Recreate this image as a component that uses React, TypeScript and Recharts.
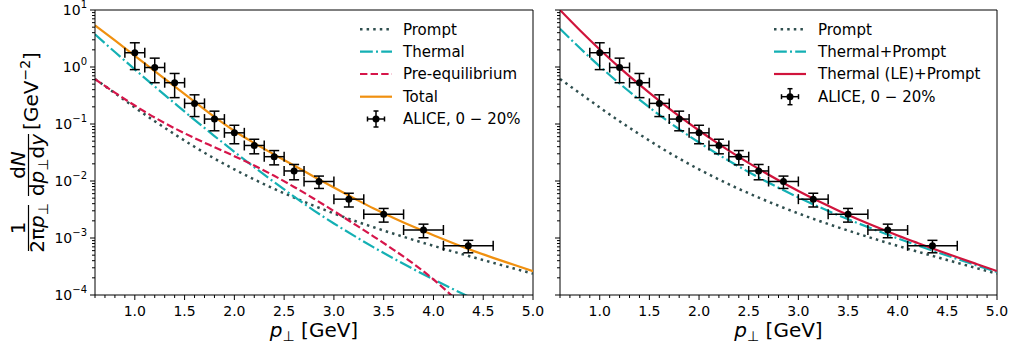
import { ComposedChart, Line, Scatter, ErrorBar, XAxis, YAxis, ReferenceLine } from "recharts";

const FONT = "'DejaVu Sans', sans-serif";

// shared pT grid for the model curves
const PT = [0.6, 0.8, 1.0, 1.2, 1.4, 1.6, 1.8, 2.0, 2.2, 2.4, 2.6, 2.8, 3.0, 3.2, 3.4, 3.6, 3.8, 4.0, 4.2, 4.4, 4.6, 4.8, 5.0];

const prompt = [0.617, 0.347, 0.195, 0.112, 0.0661, 0.0398, 0.0248, 0.016, 0.01064, 0.00728, 0.00512, 0.00368, 0.0027, 0.00202, 0.00154, 0.00119, 0.000925, 0.000728, 0.000577, 0.000459, 0.000367, 0.000294, 0.000237];
const thermal = [3.74, 1.83, 0.908, 0.455, 0.231, 0.118, 0.0615, 0.0325, 0.01746, 0.00955, 0.00532, 0.00303, 0.0018, 0.0011, 0.000684, 0.000437, 0.000284, 0.0001875, 0.000126, 0.0000857, null, null, null];
const preEq = [0.61, 0.355, 0.211, 0.13, 0.0841, 0.0566, 0.0392, 0.0273, 0.01866, 0.01233, 0.00787, 0.00489, 0.00297, 0.00178, 0.00106, 0.000621, 0.000353, 0.0001875, 0.0000918, null, null, null, null];
const total = [5.4, 2.92, 1.57, 0.85, 0.455, 0.246, 0.133, 0.0755, 0.0462, 0.0292, 0.0187, 0.0119, 0.0077, 0.005, 0.00328, 0.00225, 0.00157, 0.00112, 0.00081, 0.000595, 0.000448, 0.000342, 0.000262];
const thermalPrompt = [4.7, 2.15, 1.028, 0.513, 0.267, 0.144, 0.0809, 0.0474, 0.0287, 0.01795, 0.01153, 0.00762, 0.00515, 0.00356, 0.00252, 0.00182, 0.00133, 0.000986, 0.00074, 0.000561, 0.000428, 0.000328, 0.000254];
const thermalLEPrompt = [10, 4.41, 2.03, 0.977, 0.49, 0.255, 0.1374, 0.0769, 0.0445, 0.02655, 0.0163, 0.01028, 0.00667, 0.00445, 0.00305, 0.00214, 0.00153, 0.00111, 0.00082, 0.000611, 0.000459, 0.000347, 0.000263];

// ALICE 0-20% data
const alicePt = [1.0, 1.2, 1.4, 1.6, 1.8, 2.0, 2.2, 2.4, 2.6, 2.85, 3.15, 3.5, 3.9, 4.35];
const aliceY = [1.78, 0.98, 0.53, 0.23, 0.122, 0.07, 0.042, 0.0267, 0.015, 0.0098, 0.0048, 0.0026, 0.00138, 0.00073];
const aliceErrY = [0.88, 0.45, 0.24, 0.095, 0.046, 0.025, 0.012, 0.0075, 0.0045, 0.0024, 0.0013, 0.0007, 0.00037, 0.00018];
const aliceErrX = [0.1, 0.1, 0.1, 0.1, 0.1, 0.1, 0.1, 0.1, 0.1, 0.15, 0.15, 0.2, 0.2, 0.25];

const X_TICKS = [0.6, 0.7, 0.8, 0.9, 1.0, 1.1, 1.2, 1.3, 1.4, 1.5, 1.6, 1.7, 1.8, 1.9, 2.0, 2.1, 2.2, 2.3, 2.4, 2.5, 2.6, 2.7, 2.8, 2.9, 3.0, 3.1, 3.2, 3.3, 3.4, 3.5, 3.6, 3.7, 3.8, 3.9, 4.0, 4.1, 4.2, 4.3, 4.4, 4.5, 4.6, 4.7, 4.8, 4.9, 5.0];
const DECADES = [1e-4, 1e-3, 1e-2, 1e-1, 1];
const Y_TICKS = [...DECADES.flatMap((d) => [1, 2, 3, 4, 5, 6, 7, 8, 9].map((m) => m * d)), 10];

const rows = (vals: (number | null)[]) => PT.map((x, i) => ({ x, y: vals[i] }));
const aliceRows = alicePt.map((x, i) => ({ x, y: aliceY[i], ey: aliceErrY[i], ex: aliceErrX[i] }));

const C_PROMPT = "#2f4f4f";
const C_THERMAL = "#14b0b4";
const C_PRE = "#d6154a";
const C_TOTAL = "#f0900f";
const C_LE = "#d0143c";

const DOT = "2.5 4.1";
const DASHDOT = "12.8 3.2 2 3.2";
const DASH = "7.4 3.2";

type Curve = { name: string; vals: (number | null)[]; color: string; dash?: string; width: number };

const leftCurves: Curve[] = [
  { name: "Prompt", vals: prompt, color: C_PROMPT, dash: DOT, width: 2.5 },
  { name: "Thermal", vals: thermal, color: C_THERMAL, dash: DASHDOT, width: 2.2 },
  { name: "Pre-equilibrium", vals: preEq, color: C_PRE, dash: DASH, width: 2.2 },
  { name: "Total", vals: total, color: C_TOTAL, width: 2.2 },
];
const rightCurves: Curve[] = [
  { name: "Prompt", vals: prompt, color: C_PROMPT, dash: DOT, width: 2.5 },
  { name: "Thermal+Prompt", vals: thermalPrompt, color: C_THERMAL, dash: DASHDOT, width: 2.2 },
  { name: "Thermal (LE)+Prompt", vals: thermalLEPrompt, color: C_LE, width: 2.2 },
];

function XTick(props: any) {
  const { x, y, payload } = props;
  const v = payload.value;
  const major = Math.abs(v * 2 - Math.round(v * 2)) < 1e-6;
  return (
    <g>
      <line x1={x} x2={x} y1={y} y2={y + (major ? 5 : 3)} stroke="#000" strokeWidth={1} />
      {major && (
        <text x={x} y={y + 21} textAnchor="middle" fontSize={14} fill="#000">
          {v.toFixed(1)}
        </text>
      )}
    </g>
  );
}

function YTick(props: any) {
  const { x, y, payload, showLabel } = props;
  const lg = Math.log10(payload.value);
  const exp = Math.round(lg);
  const major = Math.abs(lg - exp) < 1e-6;
  return (
    <g>
      <line x1={x} x2={x - (major ? 5 : 3)} y1={y} y2={y} stroke="#000" strokeWidth={1} />
      {major && showLabel && (
        <text x={x - 8} y={y} dy="0.35em" textAnchor="end" fontSize={14} fill="#000">
          10
          <tspan fontSize={10} dy={-7}>{exp < 0 ? `\u2212${-exp}` : `${exp}`}</tspan>
        </text>
      )}
    </g>
  );
}

function Panel({ left, width, yWidth, marginRight, showLabels, curves }: { left: number; width: number; yWidth: number; marginRight: number; showLabels: boolean; curves: Curve[] }) {
  return (
    <div style={{ position: "absolute", left, top: 0 }}>
      <ComposedChart width={width} height={352} margin={{ top: 10, right: marginRight, bottom: 0, left: 0 }}>
        <XAxis
          dataKey="x"
          type="number"
          domain={[0.6, 5]}
          allowDataOverflow
          ticks={X_TICKS}
          interval={0}
          tickSize={0}
          tickMargin={0}
          tickLine={false}
          axisLine={{ stroke: "#000" }}
          height={57}
          tick={(p: any) => <XTick {...p} />}
        />
        <YAxis
          type="number"
          scale="log"
          domain={[1e-4, 10]}
          allowDataOverflow
          ticks={Y_TICKS}
          interval={0}
          tickSize={0}
          tickMargin={0}
          tickLine={false}
          axisLine={{ stroke: "#000" }}
          width={yWidth}
          tick={(p: any) => <YTick {...p} showLabel={showLabels} />}
        />
        <ReferenceLine y={10} stroke="#000" strokeWidth={1} />
        <ReferenceLine x={5} stroke="#000" strokeWidth={1} />
        {curves.map((c) => (
          <Line
            key={c.name}
            data={rows(c.vals)}
            dataKey="y"
            type="monotone"
            stroke={c.color}
            strokeWidth={c.width}
            strokeDasharray={c.dash}
            dot={false}
            activeDot={false}
            isAnimationActive={false}
          />
        ))}
        <Scatter
          data={aliceRows}
          dataKey="y"
          isAnimationActive={false}
          shape={(p: any) => <circle cx={p.cx} cy={p.cy} r={3.5} fill="#000" />}
        >
          <ErrorBar dataKey="ey" direction="y" width={5} stroke="#000" strokeWidth={1.5} isAnimationActive={false} />
          <ErrorBar dataKey="ex" direction="x" width={5} stroke="#000" strokeWidth={1.5} isAnimationActive={false} />
        </Scatter>
      </ComposedChart>
    </div>
  );
}

function LegendBlock({ x0, tx, curves, rowY }: { x0: number; tx: number; curves: Curve[]; rowY: number[] }) {
  const aliceY0 = rowY[curves.length];
  const cx = x0 + 16;
  return (
    <g>
      {curves.map((c, i) => (
        <g key={c.name}>
          <line x1={x0} x2={x0 + 32} y1={rowY[i]} y2={rowY[i]} stroke={c.color} strokeWidth={c.width} strokeDasharray={c.dash} />
          <text x={tx} y={rowY[i]} dy="0.35em" fontSize={15} fill="#000">
            {c.name}
          </text>
        </g>
      ))}
      <g stroke="#000" strokeWidth={1.5}>
        <line x1={cx - 8.5} x2={cx + 8.5} y1={aliceY0} y2={aliceY0} />
        <line x1={cx - 8.5} x2={cx - 8.5} y1={aliceY0 - 2.5} y2={aliceY0 + 2.5} />
        <line x1={cx + 8.5} x2={cx + 8.5} y1={aliceY0 - 2.5} y2={aliceY0 + 2.5} />
        <line x1={cx} x2={cx} y1={aliceY0 - 8} y2={aliceY0 + 8} />
        <line x1={cx - 2.5} x2={cx + 2.5} y1={aliceY0 - 8} y2={aliceY0 - 8} />
        <line x1={cx - 2.5} x2={cx + 2.5} y1={aliceY0 + 8} y2={aliceY0 + 8} />
      </g>
      <circle cx={cx} cy={aliceY0} r={3.5} fill="#000" />
      <text x={tx} y={aliceY0} dy="0.35em" fontSize={15} fill="#000" style={{ whiteSpace: "pre" }}>
        {"ALICE, 0 \u2212 20%"}
      </text>
    </g>
  );
}

const ROWS = [29.3, 51.7, 74, 96.7, 119];

export default function App() {
  return (
    <div style={{ position: "absolute", left: 0, top: 0, width: 1013, height: 352, background: "#fff", fontFamily: FONT }}>
      <Panel left={0} width={553} yWidth={95} marginRight={20} showLabels curves={leftCurves} />
      <Panel left={540} width={473} yWidth={20} marginRight={16} showLabels={false} curves={rightCurves} />
      <svg width={1013} height={352} style={{ position: "absolute", left: 0, top: 0, pointerEvents: "none" }}>
        <LegendBlock x0={360} tx={403} curves={leftCurves} rowY={ROWS} />
        <LegendBlock x0={774} tx={818} curves={rightCurves} rowY={ROWS} />
        {[314, 778.5].map((cx) => (
          <text key={cx} x={cx} y={337} textAnchor="middle" fontSize={20} fill="#000" style={{ whiteSpace: "pre" }}>
            <tspan fontStyle="italic">p</tspan>
            <tspan fontSize={14} dy={4}>{"\u22a5"}</tspan>
            <tspan dy={-4}>{" [GeV]"}</tspan>
          </text>
        ))}
        <g transform="rotate(-90)" fill="#000" style={{ whiteSpace: "pre" }}>
          <text x={-228} y={25} textAnchor="middle" fontSize={20}>1</text>
          <line x1={-251} x2={-205} y1={28.5} y2={28.5} stroke="#000" strokeWidth={1.2} />
          <text x={-228} y={44} textAnchor="middle" fontSize={20}>
            {"2\u03c0"}
            <tspan fontStyle="italic">p</tspan>
            <tspan fontSize={14} dy={4}>{"\u22a5"}</tspan>
          </text>
          <text x={-165} y={25} textAnchor="middle" fontSize={20}>
            d<tspan fontStyle="italic">N</tspan>
          </text>
          <line x1={-196} x2={-134} y1={28.5} y2={28.5} stroke="#000" strokeWidth={1.2} />
          <text x={-165} y={44} textAnchor="middle" fontSize={20}>
            d<tspan fontStyle="italic">p</tspan>
            <tspan fontSize={14} dy={4}>{"\u22a5"}</tspan>
            <tspan dy={-4}>d</tspan>
            <tspan fontStyle="italic">y</tspan>
          </text>
          <text x={-91} y={38} textAnchor="middle" fontSize={20}>
            [GeV
            <tspan fontSize={14} dy={-8}>{"\u22122"}</tspan>
            <tspan dy={8}>]</tspan>
          </text>
        </g>
      </svg>
    </div>
  );
}
